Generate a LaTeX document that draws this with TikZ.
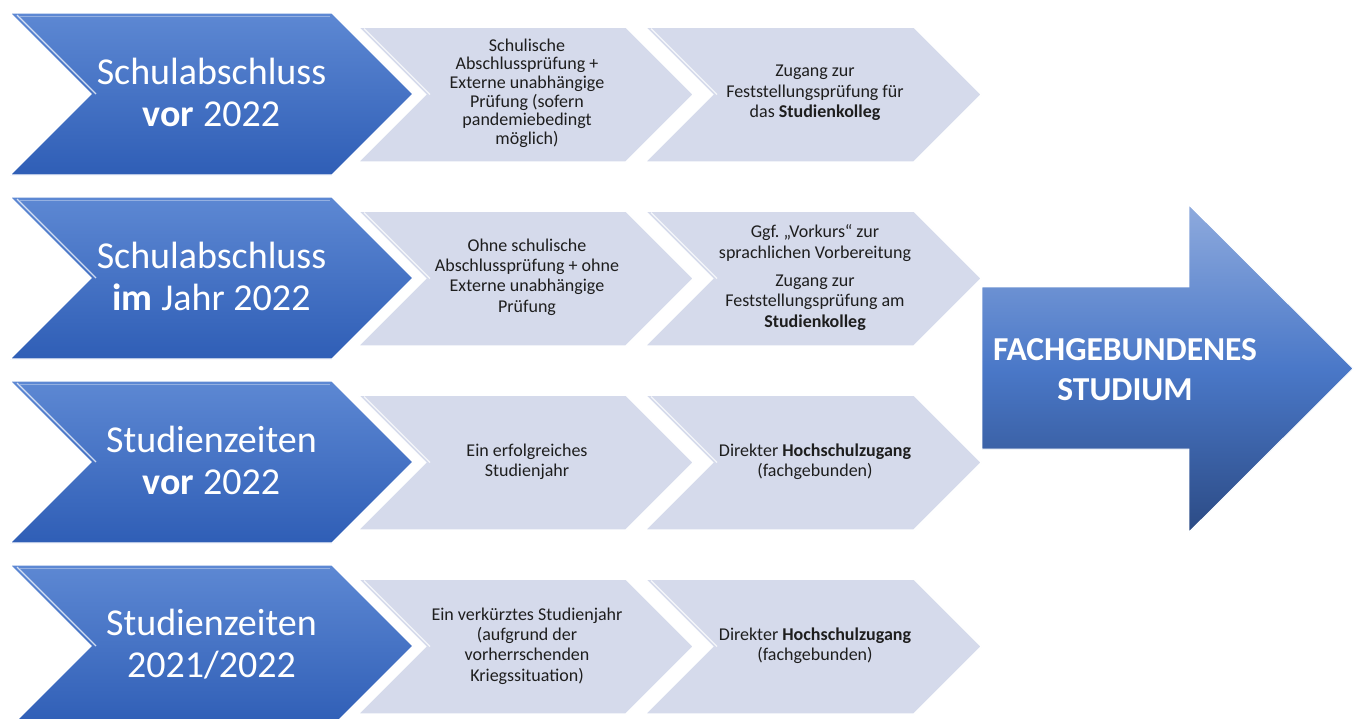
\documentclass[tikz,border=0pt]{standalone}
\usepackage{fontspec}
\setmainfont{Carlito}
\definecolor{bluetop}{HTML}{5D88D3}
\definecolor{bluebot}{HTML}{2F5EB6}
\definecolor{grayfill}{HTML}{D5DAEB}
\definecolor{txtcol}{HTML}{1E1E1E}
\definecolor{arrtop}{HTML}{8EAADD}
\definecolor{arrmid}{HTML}{4A78C8}
\definecolor{arrbot}{HTML}{2C4B85}
\begin{document}
\begin{tikzpicture}[x=1pt,y=-1pt,
  bluelbl/.style={text=white, align=center, font=\fontsize{38}{42}\selectfont, inner sep=0pt},
  graylbl/.style={text=txtcol, align=center, font=\fontsize{18}{20.3}\selectfont, inner sep=0pt},
  biglbl/.style={text=white, align=center, font=\bfseries\fontsize{33.5}{40}\selectfont, inner sep=0pt},
  bluechev/.style={top color=bluetop, bottom color=bluebot, draw=white, line width=1.2pt},
  graychev/.style={fill=grayfill, draw=white, line width=1.5pt},
  bevel/.style={draw=white, line width=1.3pt, opacity=0.75}]
\useasboundingbox (0,0) rectangle (1359,718);

\foreach \T in {13,197,381,565}{
  \pgfmathsetmacro{\G}{\T+14}
  % gray chevrons
  \path[graychev] (358,\G) -- (626,\G) -- (693.5,\G+67.5) -- (626,\G+135) -- (358,\G+135) -- (425.5,\G+67.5) -- cycle;
  \draw[bevel] (364,\G+1.5) -- (430,\G+67.5);
  \path[graychev] (645,\G) -- (914,\G) -- (981.5,\G+67.5) -- (914,\G+135) -- (645,\G+135) -- (712.5,\G+67.5) -- cycle;
  \draw[bevel] (651,\G+1.5) -- (717,\G+67.5);
  % blue chevron
  \shade[bluechev] (10,\T) -- (332,\T) -- (413,\T+81) -- (332,\T+162) -- (10,\T+162) -- (91,\T+81) -- cycle;
  \draw[bevel] (17,\T+2) -- (96,\T+81);
  \draw[white, line width=0.8pt, opacity=0.35] (20,\T+3) -- (330,\T+3);
}

% big arrow
\shade[top color=arrtop, bottom color=arrbot, middle color=arrmid, draw=white, line width=0.8pt]
  (982,287) -- (1189,287) -- (1189,205) -- (1353,368.5) -- (1189,532) -- (1189,449) -- (982,449) -- cycle;
\node[biglbl] (ziel) at (1125,370) {FACHGEBUNDENES\\STUDIUM};

% blue labels
\node[bluelbl] (b1) at (211.5,92) {Schulabschluss\\\textbf{vor} 2022};
\node[bluelbl] (b2) at (211.5,276) {Schulabschluss\\\textbf{im} Jahr 2022};
\node[bluelbl] (b3) at (211.5,460) {Studienzeiten\\\textbf{vor} 2022};
\node[bluelbl] (b4) at (211.5,644) {Studienzeiten\\2021/2022};

% gray labels, column 1
\node[graylbl, font=\fontsize{18}{18.6}\selectfont] (g11) at (527,93) {Schulische\\Abschlussprüfung +\\Externe unabhängige\\Prüfung (sofern\\pandemiebedingt\\möglich)};
\node[graylbl] (g21) at (527,277) {Ohne schulische\\Abschlussprüfung + ohne\\Externe unabhängige\\Prüfung};
\node[graylbl] (g31) at (527,462) {Ein erfolgreiches\\Studienjahr};
\node[graylbl] (g41) at (527,646) {Ein verkürztes Studienjahr\\(aufgrund der\\vorherrschenden\\Kriegssituation)};

% gray labels, column 2
\node[graylbl] (g12) at (815,93) {Zugang zur\\Feststellungsprüfung für\\das \textbf{Studienkolleg}};
\node[graylbl] (g22) at (815,277.5) {Ggf.~„Vorkurs“ zur\\sprachlichen Vorbereitung\\[8pt]Zugang zur\\Feststellungsprüfung am\\\textbf{Studienkolleg}};
\node[graylbl] (g32) at (815,462) {Direkter \textbf{Hochschulzugang}\\(fachgebunden)};
\node[graylbl] (g42) at (815,646) {Direkter \textbf{Hochschulzugang}\\(fachgebunden)};
\end{tikzpicture}
\end{document}
